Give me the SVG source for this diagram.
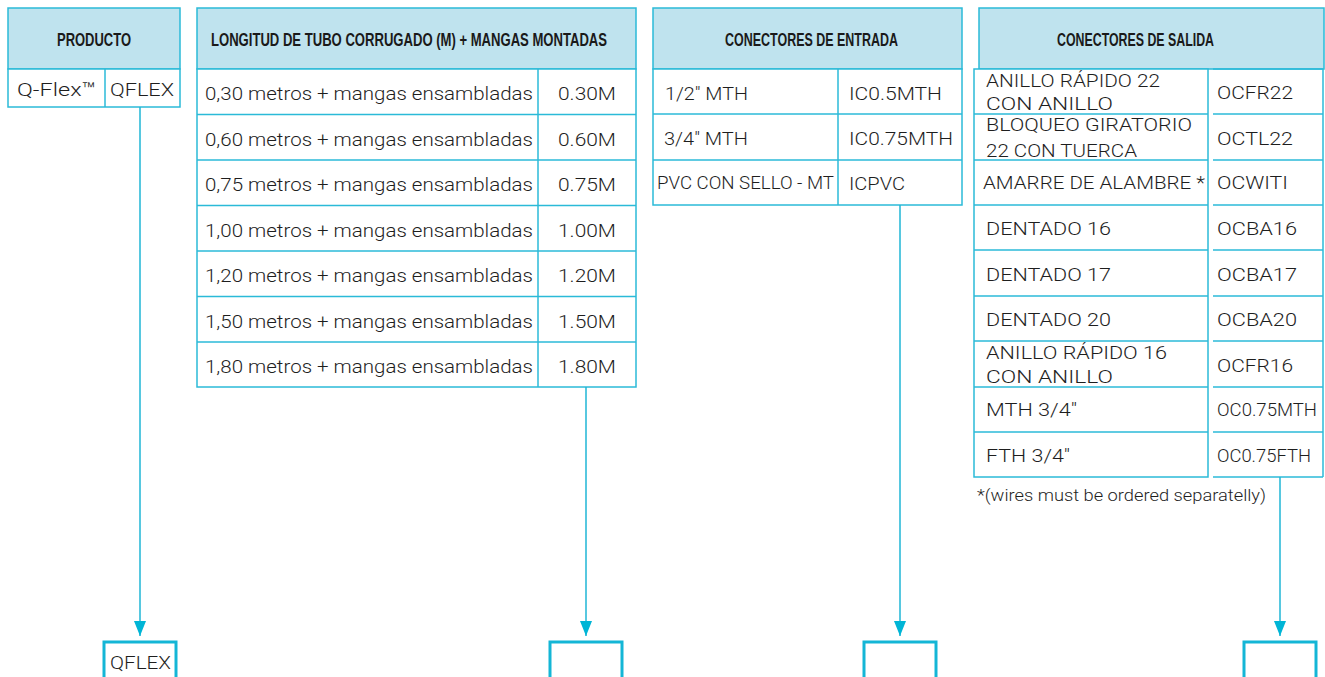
<svg xmlns="http://www.w3.org/2000/svg" width="1325" height="677" viewBox="0 0 1325 677">
<style>
.hd{fill:#bfe3ee;stroke:#2bbad8;stroke-width:1.5}
.cell{fill:#fff;stroke:#2bbad8;stroke-width:1.5}
.ln{stroke:#2bbad8;stroke-width:1.5;fill:none}
.ht{font-family:"Liberation Sans",Arial,sans-serif;font-weight:bold;font-size:18.5px;fill:#1a1a1a}
.bt{font-family:Roboto,"Liberation Sans",Arial,sans-serif;font-weight:300;font-size:19px;fill:#1e1e1e}
.st{font-family:Roboto,"Liberation Sans",Arial,sans-serif;font-weight:300;font-size:17.5px;fill:#1e1e1e}
.ft{font-family:Roboto,"Liberation Sans",Arial,sans-serif;font-weight:300;font-size:16px;fill:#1e1e1e}
.con{stroke:#1fb6d6;stroke-width:1.5;fill:none}
.out{stroke:#14b6d6;stroke-width:3;fill:#fff}
</style>
<defs>
<marker id="ah" viewBox="0 0 15 12" refX="15" refY="6" markerWidth="15" markerHeight="12" markerUnits="userSpaceOnUse" orient="auto">
<path d="M0,0 L15,6 L0,12 Z" fill="#00b5d6"/>
</marker>
</defs>
<rect width="1325" height="677" fill="#fff"/>

<g id="producto">
<rect class="hd" x="8" y="8" width="172" height="61"/>
<text class="ht" transform="translate(57,46) scale(0.68,1)" x="0" y="0" textLength="108.8" lengthAdjust="spacingAndGlyphs">PRODUCTO</text>
<rect class="cell" x="8" y="69" width="172" height="38"/>
<line class="ln" x1="105" y1="69" x2="105" y2="107"/>
<text class="bt" x="17" y="96" textLength="79" lengthAdjust="spacingAndGlyphs">Q-Flex™</text>
<text class="bt" x="110" y="96" textLength="64" lengthAdjust="spacingAndGlyphs">QFLEX</text>
</g>

<g id="longitud">
<rect class="hd" x="197" y="8" width="439" height="61"/>
<text class="ht" transform="translate(211,46) scale(0.68,1)" x="0" y="0" textLength="582.4" lengthAdjust="spacingAndGlyphs">LONGITUD DE TUBO CORRUGADO (M) + MANGAS MONTADAS</text>
<rect class="cell" x="197" y="69" width="439" height="318"/>
<line class="ln" x1="538" y1="69" x2="538" y2="387"/>
<line class="ln" x1="197" y1="114.5" x2="636" y2="114.5"/>
<line class="ln" x1="197" y1="160" x2="636" y2="160"/>
<line class="ln" x1="197" y1="205.5" x2="636" y2="205.5"/>
<line class="ln" x1="197" y1="251" x2="636" y2="251"/>
<line class="ln" x1="197" y1="296.5" x2="636" y2="296.5"/>
<line class="ln" x1="197" y1="342" x2="636" y2="342"/>
<text class="bt" x="205" y="100" textLength="328" lengthAdjust="spacingAndGlyphs">0,30 metros + mangas ensambladas</text>
<text class="bt" x="205" y="145.5" textLength="328" lengthAdjust="spacingAndGlyphs">0,60 metros + mangas ensambladas</text>
<text class="bt" x="205" y="191" textLength="328" lengthAdjust="spacingAndGlyphs">0,75 metros + mangas ensambladas</text>
<text class="bt" x="205" y="236.5" textLength="328" lengthAdjust="spacingAndGlyphs">1,00 metros + mangas ensambladas</text>
<text class="bt" x="205" y="282" textLength="328" lengthAdjust="spacingAndGlyphs">1,20 metros + mangas ensambladas</text>
<text class="bt" x="205" y="327.5" textLength="328" lengthAdjust="spacingAndGlyphs">1,50 metros + mangas ensambladas</text>
<text class="bt" x="205" y="373" textLength="328" lengthAdjust="spacingAndGlyphs">1,80 metros + mangas ensambladas</text>
<text class="bt" x="558" y="100" textLength="58" lengthAdjust="spacingAndGlyphs">0.30M</text>
<text class="bt" x="558" y="145.5" textLength="58" lengthAdjust="spacingAndGlyphs">0.60M</text>
<text class="bt" x="558" y="191" textLength="58" lengthAdjust="spacingAndGlyphs">0.75M</text>
<text class="bt" x="558" y="236.5" textLength="58" lengthAdjust="spacingAndGlyphs">1.00M</text>
<text class="bt" x="558" y="282" textLength="58" lengthAdjust="spacingAndGlyphs">1.20M</text>
<text class="bt" x="558" y="327.5" textLength="58" lengthAdjust="spacingAndGlyphs">1.50M</text>
<text class="bt" x="558" y="373" textLength="58" lengthAdjust="spacingAndGlyphs">1.80M</text>
</g>

<g id="entrada">
<rect class="hd" x="653" y="8" width="309" height="61"/>
<text class="ht" transform="translate(725,46) scale(0.68,1)" x="0" y="0" textLength="254.4" lengthAdjust="spacingAndGlyphs">CONECTORES DE ENTRADA</text>
<rect class="cell" x="653" y="69" width="309" height="136"/>
<line class="ln" x1="838" y1="69" x2="838" y2="205"/>
<line class="ln" x1="653" y1="114" x2="962" y2="114"/>
<line class="ln" x1="653" y1="160" x2="962" y2="160"/>
<text class="bt" x="665" y="99.5" textLength="83" lengthAdjust="spacingAndGlyphs">1/2" MTH</text>
<text class="bt" x="664" y="145" textLength="84" lengthAdjust="spacingAndGlyphs">3/4" MTH</text>
<text class="st" x="657" y="188.5" font-size="16.5" textLength="177" lengthAdjust="spacingAndGlyphs">PVC CON SELLO - MT</text>
<text class="bt" x="849" y="99.5" textLength="93" lengthAdjust="spacingAndGlyphs">IC0.5MTH</text>
<text class="bt" x="849" y="145" textLength="104" lengthAdjust="spacingAndGlyphs">IC0.75MTH</text>
<text class="bt" x="849" y="190" textLength="56" lengthAdjust="spacingAndGlyphs">ICPVC</text>
</g>

<g id="salida">
<rect class="hd" x="979" y="8" width="345" height="61"/>
<text class="ht" transform="translate(1057,46) scale(0.68,1)" x="0" y="0" textLength="230.9" lengthAdjust="spacingAndGlyphs">CONECTORES DE SALIDA</text>
<rect class="cell" x="974" y="69" width="234" height="408"/>
<line class="ln" x1="974" y1="114" x2="1208" y2="114"/>
<line class="ln" x1="974" y1="160" x2="1208" y2="160"/>
<line class="ln" x1="974" y1="205" x2="1208" y2="205"/>
<line class="ln" x1="974" y1="250" x2="1208" y2="250"/>
<line class="ln" x1="974" y1="296" x2="1208" y2="296"/>
<line class="ln" x1="974" y1="341" x2="1208" y2="341"/>
<line class="ln" x1="974" y1="387" x2="1208" y2="387"/>
<line class="ln" x1="974" y1="432" x2="1208" y2="432"/>
<line class="ln" x1="1213" y1="69" x2="1323" y2="69"/>
<line class="ln" x1="1213" y1="114" x2="1323" y2="114"/>
<line class="ln" x1="1213" y1="160" x2="1323" y2="160"/>
<line class="ln" x1="1213" y1="205" x2="1323" y2="205"/>
<line class="ln" x1="1213" y1="250" x2="1323" y2="250"/>
<line class="ln" x1="1213" y1="296" x2="1323" y2="296"/>
<line class="ln" x1="1213" y1="341" x2="1323" y2="341"/>
<line class="ln" x1="1213" y1="387" x2="1323" y2="387"/>
<line class="ln" x1="1213" y1="432" x2="1323" y2="432"/>
<line class="ln" x1="1213" y1="477" x2="1323" y2="477"/>
<line class="ln" x1="1323" y1="69" x2="1323" y2="477"/>
<text class="st" x="986" y="87" textLength="174" lengthAdjust="spacingAndGlyphs">ANILLO RÁPIDO 22</text>
<text class="st" x="986" y="110" textLength="127" lengthAdjust="spacingAndGlyphs">CON ANILLO</text>
<text class="st" x="986" y="131" textLength="206" lengthAdjust="spacingAndGlyphs">BLOQUEO GIRATORIO</text>
<text class="st" x="986" y="157" textLength="151" lengthAdjust="spacingAndGlyphs">22 CON TUERCA</text>
<text class="st" x="983" y="189" textLength="222" lengthAdjust="spacingAndGlyphs">AMARRE DE ALAMBRE *</text>
<text class="st" x="986" y="235" textLength="125" lengthAdjust="spacingAndGlyphs">DENTADO 16</text>
<text class="st" x="986" y="281" textLength="125" lengthAdjust="spacingAndGlyphs">DENTADO 17</text>
<text class="st" x="986" y="326" textLength="125" lengthAdjust="spacingAndGlyphs">DENTADO 20</text>
<text class="st" x="986" y="359" textLength="181" lengthAdjust="spacingAndGlyphs">ANILLO RÁPIDO 16</text>
<text class="st" x="986" y="383" textLength="127" lengthAdjust="spacingAndGlyphs">CON ANILLO</text>
<text class="st" x="986" y="416" textLength="91" lengthAdjust="spacingAndGlyphs">MTH 3/4"</text>
<text class="st" x="986" y="462" textLength="84" lengthAdjust="spacingAndGlyphs">FTH 3/4"</text>
<text class="st" x="1217" y="99" textLength="76" lengthAdjust="spacingAndGlyphs">OCFR22</text>
<text class="st" x="1217" y="145" textLength="76" lengthAdjust="spacingAndGlyphs">OCTL22</text>
<text class="st" x="1217" y="189" textLength="71" lengthAdjust="spacingAndGlyphs">OCWITI</text>
<text class="st" x="1217" y="235" textLength="80" lengthAdjust="spacingAndGlyphs">OCBA16</text>
<text class="st" x="1217" y="281" textLength="80" lengthAdjust="spacingAndGlyphs">OCBA17</text>
<text class="st" x="1217" y="326" textLength="80" lengthAdjust="spacingAndGlyphs">OCBA20</text>
<text class="st" x="1217" y="372" textLength="76" lengthAdjust="spacingAndGlyphs">OCFR16</text>
<text class="st" x="1217" y="416" textLength="100" lengthAdjust="spacingAndGlyphs">OC0.75MTH</text>
<text class="st" x="1217" y="462" textLength="94" lengthAdjust="spacingAndGlyphs">OC0.75FTH</text>
<text class="ft" x="977" y="501" textLength="289" lengthAdjust="spacingAndGlyphs">*(wires must be ordered separatelly)</text>
</g>

<g id="connectors">
<line class="con" x1="140" y1="107" x2="140" y2="636" marker-end="url(#ah)"/>
<line class="con" x1="586" y1="387" x2="586" y2="636" marker-end="url(#ah)"/>
<line class="con" x1="900" y1="205" x2="900" y2="636" marker-end="url(#ah)"/>
<line class="con" x1="1280" y1="477" x2="1280" y2="636" marker-end="url(#ah)"/>
</g>

<g id="out-producto">
<rect class="out" x="104" y="642" width="72" height="60"/>
<text class="bt" x="110" y="669" textLength="61" lengthAdjust="spacingAndGlyphs">QFLEX</text>
</g>
<g id="out-longitud">
<rect class="out" x="550" y="642" width="72" height="60"/>
</g>
<g id="out-entrada">
<rect class="out" x="864" y="642" width="72" height="60"/>
</g>
<g id="out-salida">
<rect class="out" x="1244" y="642" width="72" height="60"/>
</g>
</svg>
